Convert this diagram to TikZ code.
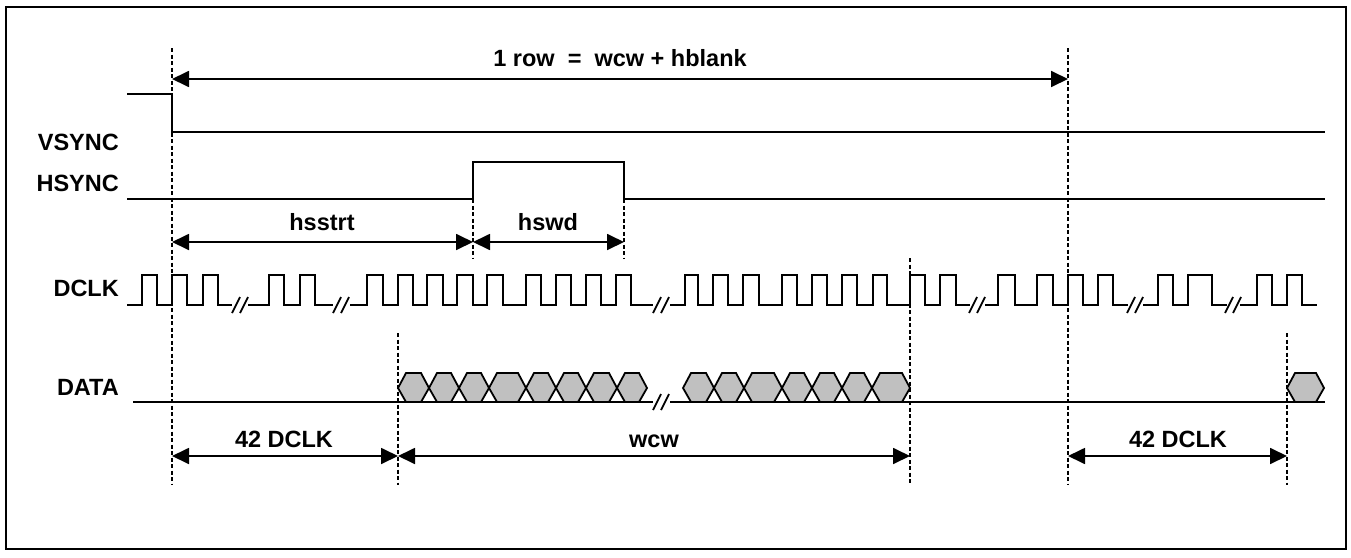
\documentclass[tikz,border=0pt]{standalone}
\usepackage{fontspec}
\setmainfont{Liberation Sans}
\usetikzlibrary{arrows.meta}
\definecolor{cellgray}{HTML}{C0C0C0}
\begin{document}
\begin{tikzpicture}[x=1pt,y=-1pt,
  sig/.style={line width=1.8pt, line join=miter},
  guide/.style={line width=1.4pt, dash pattern=on 4pt off 2.5pt},
  dim/.style={line width=1.8pt, {Triangle[length=17pt,width=16pt]}-{Triangle[length=17pt,width=16pt]}},
  lbl/.style={font=\fontsize{23.5}{27}\selectfont\bfseries, inner sep=0pt},
  signame/.style={lbl, anchor=base east},
  dimtext/.style={lbl, anchor=base},
  cell/.style={line width=1.8pt, fill=cellgray, line join=miter},
  brk/.style={line width=1.8pt}
]
\useasboundingbox (0,0) rectangle (1351,557);
\draw[line width=2.5pt] (6,7) rectangle (1346,549);

% signal names
\node[signame] (lv) at (119,150) {VSYNC};
\node[signame] (lh) at (119,191.7) {HSYNC};
\node[signame] (lc) at (119,296.7) {DCLK};
\node[signame] (ld) at (119,395) {DATA};

% guide lines
\coordinate (g1t) at (172,48);   \coordinate (g1b) at (172,485);
\coordinate (g2t) at (1068,48);  \coordinate (g2b) at (1068,485);
\coordinate (g3t) at (398,333);  \coordinate (g3b) at (398,485);
\coordinate (g4t) at (1287,333); \coordinate (g4b) at (1287,485);
\coordinate (g5t) at (910,258);  \coordinate (g5b) at (910,485);
\coordinate (g6t) at (473,199);  \coordinate (g6b) at (473,258);
\coordinate (g7t) at (624,199);  \coordinate (g7b) at (624,258);
\foreach \g in {1,...,7} \draw[guide] (g\g t) -- (g\g b);

% VSYNC
\draw[sig] (127,94) -- (172,94) -- (172,132) -- (1325,132);
% HSYNC
\draw[sig] (127,199) -- (473,199) -- (473,162) -- (624,162) -- (624,199) -- (1325,199);

% DCLK
\def\lo{305}\def\hi{275}
\draw[sig] (127,\lo) foreach \r/\f in {142/157,172/187,203/218}
  { -- (\r,\lo) -- (\r,\hi) -- (\f,\hi) -- (\f,\lo) } -- (232,\lo);
\draw[sig] (248,\lo) foreach \r/\f in {269/284,300/315}
  { -- (\r,\lo) -- (\r,\hi) -- (\f,\hi) -- (\f,\lo) } -- (333,\lo);
\draw[sig] (350,\lo) foreach \r/\f in {367/383,398/413,427/443,457/473,487/503,526/541,556/571,586/601,616/631}
  { -- (\r,\lo) -- (\r,\hi) -- (\f,\hi) -- (\f,\lo) } -- (653,\lo);
\draw[sig] (670,\lo) foreach \r/\f in {685/698,713/728,743/759,782/797,812/827,842/857,873/887,910/925,940/956}
  { -- (\r,\lo) -- (\r,\hi) -- (\f,\hi) -- (\f,\lo) } -- (970,\lo);
\draw[sig] (985,\lo) foreach \r/\f in {998/1015,1037/1053,1068/1083,1098/1113}
  { -- (\r,\lo) -- (\r,\hi) -- (\f,\hi) -- (\f,\lo) } -- (1128,\lo);
\draw[sig] (1143,\lo) foreach \r/\f in {1158/1173,1188/1212}
  { -- (\r,\lo) -- (\r,\hi) -- (\f,\hi) -- (\f,\lo) } -- (1227,\lo);
\draw[sig] (1240,\lo) foreach \r/\f in {1257/1272,1287/1302}
  { -- (\r,\lo) -- (\r,\hi) -- (\f,\hi) -- (\f,\lo) } -- (1317,\lo);
\foreach \c in {240,341,661,977,1135,1233}
  \draw[brk] (\c-8,313) -- (\c,297) (\c,313) -- (\c+8,297);

% DATA
\draw[sig] (133,402) -- (653,402) (670,402) -- (1325,402);
\draw[brk] (653,410) -- (661,394) (661,410) -- (669,394);
\foreach \a/\b in {398/429,429/459,459/489,489/526,526/556,556/586,586/617,617/647,
                   683/714,714/744,744/782,782/812,812/842,842/872,872/910,1287/1324}
  \draw[cell] (\a,388) -- (\a+8,373) -- (\b-8,373) -- (\b,388) -- (\b-8,402) -- (\a+8,402) -- cycle;

% dimensions
\coordinate (rowL) at (172,79);  \coordinate (rowR) at (1068,79);
\draw[dim] (rowL) -- (rowR);
\node[dimtext] (trow) at (620,66) {1 row\ \ =\ \ wcw + hblank};

\coordinate (hsA) at (172,242); \coordinate (hsB) at (473,242); \coordinate (hsC) at (624,242);
\draw[dim] (hsA) -- (hsB);
\draw[dim] (hsB) -- (hsC);
\node[dimtext] (thss) at (322,230) {hsstrt};
\node[dimtext] (thsw) at (548,230) {hswd};

\coordinate (bA) at (172,456); \coordinate (bB) at (398,456); \coordinate (bC) at (910,456);
\coordinate (bD) at (1068,456); \coordinate (bE) at (1287,456);
\draw[dim] (bA) -- (bB);
\draw[dim] (bB) -- (bC);
\draw[dim] (bD) -- (bE);
\node[dimtext] (t42a) at (284,447) {42 DCLK};
\node[dimtext] (twcw) at (654,447) {wcw};
\node[dimtext] (t42b) at (1178,447) {42 DCLK};
\end{tikzpicture}
\end{document}
